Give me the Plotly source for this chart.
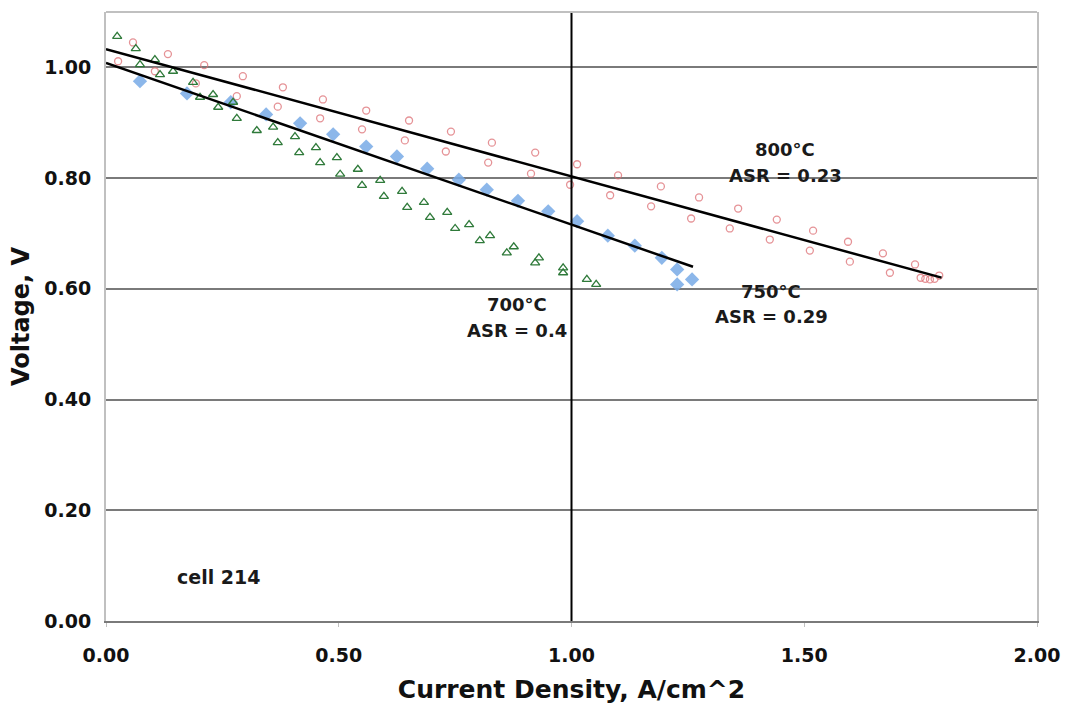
import plotly.graph_objects as go
import numpy as np

# ---- data ----
red_800_x = [0.026, 0.058, 0.105, 0.133, 0.193, 0.211, 0.281, 0.294, 0.369, 0.380, 0.460, 0.466,
             0.550, 0.559, 0.642, 0.651, 0.730, 0.741, 0.821, 0.829, 0.913, 0.922, 0.997, 1.012,
             1.083, 1.100, 1.171, 1.192, 1.257, 1.274, 1.340, 1.358, 1.426, 1.441, 1.512, 1.519,
             1.598, 1.594, 1.684, 1.669, 1.738, 1.750, 1.760, 1.770, 1.780, 1.790]
red_800_y = [1.011, 1.045, 0.993, 1.024, 0.971, 1.004, 0.948, 0.984, 0.929, 0.964, 0.908, 0.942,
             0.888, 0.922, 0.868, 0.904, 0.848, 0.884, 0.828, 0.864, 0.808, 0.846, 0.788, 0.825,
             0.769, 0.805, 0.749, 0.785, 0.727, 0.765, 0.709, 0.745, 0.689, 0.725, 0.669, 0.705,
             0.649, 0.685, 0.629, 0.664, 0.644, 0.620, 0.618, 0.617, 0.618, 0.624]

blue_750_x = [0.073, 0.174, 0.268, 0.344, 0.417, 0.488, 0.559, 0.625, 0.690, 0.758, 0.818, 0.885,
              0.950, 1.012, 1.078, 1.136, 1.194, 1.227, 1.227, 1.259]
blue_750_y = [0.975, 0.953, 0.937, 0.915, 0.899, 0.879, 0.857, 0.839, 0.817, 0.797, 0.779, 0.759,
              0.740, 0.722, 0.696, 0.678, 0.656, 0.635, 0.608, 0.617]

green_700_x = [0.024, 0.064, 0.073, 0.105, 0.116, 0.144, 0.187, 0.202, 0.230, 0.241, 0.273, 0.281,
               0.324, 0.359, 0.369, 0.406, 0.415, 0.451, 0.460, 0.496, 0.503, 0.541, 0.550, 0.589,
               0.597, 0.636, 0.647, 0.683, 0.696, 0.733, 0.750, 0.780, 0.803, 0.825, 0.861, 0.876,
               0.922, 0.930, 0.982, 0.982, 1.033, 1.053]
green_700_y = [1.056, 1.034, 1.005, 1.014, 0.987, 0.993, 0.973, 0.946, 0.951, 0.928, 0.937, 0.908,
               0.886, 0.892, 0.864, 0.875, 0.846, 0.855, 0.828, 0.837, 0.807, 0.816, 0.787, 0.796,
               0.767, 0.776, 0.747, 0.756, 0.729, 0.738, 0.709, 0.716, 0.687, 0.696, 0.665, 0.676,
               0.647, 0.656, 0.629, 0.638, 0.617, 0.608]

# linear fits (intercept, slope = -ASR) and their current ranges
fit_names = ["800°C fit", "750°C fit"]
fit_intercepts = [1.033, 1.008]
fit_slopes = [-0.230, -0.292]
fit_x_end = [1.795, 1.261]

x_ticks = [0.0, 0.5, 1.0, 1.5, 2.0]
y_ticks = [0.0, 0.2, 0.4, 0.6, 0.8, 1.0]
ref_current = 1.0

FONT = "DejaVu Sans"

fig = go.Figure()

fig.add_trace(go.Scatter(x=red_800_x, y=red_800_y, mode="markers", name="800°C",
                         marker=dict(symbol="circle-open", size=7, color="rgba(220,110,115,0.75)",
                                     line=dict(width=1.3))))
fig.add_trace(go.Scatter(x=blue_750_x, y=blue_750_y, mode="markers", name="750°C",
                         marker=dict(symbol="diamond", size=11, color="rgba(120,170,230,0.85)",
                                     line=dict(width=0))))
fig.add_trace(go.Scatter(x=green_700_x, y=green_700_y, mode="markers", name="700°C",
                         marker=dict(symbol="triangle-up-open", size=8, color="#2f7a3a",
                                     line=dict(width=1.3))))

for name, b, m, xe in zip(fit_names, fit_intercepts, fit_slopes, fit_x_end):
    xs = np.array([0.0, xe])
    fig.add_trace(go.Scatter(x=xs, y=b + m * xs, mode="lines", name=name,
                             line=dict(color="black", width=2.5)))

# reference vertical line at 1 A/cm^2
fig.add_shape(type="line", xref="x", yref="paper", x0=ref_current, x1=ref_current, y0=0, y1=1,
              line=dict(color="black", width=2))
# light top border of the plot area
fig.add_shape(type="line", xref="paper", yref="paper", x0=0, x1=1, y0=1, y1=1,
              line=dict(color="#c0c0c0", width=2))

ann_font = dict(family=FONT, size=18, color="#1a1a1a", weight="bold")
annotations = [
    ("800°C", 1.459, 0.852), ("ASR = 0.23", 1.459, 0.805),
    ("750°C", 1.429, 0.595), ("ASR = 0.29", 1.429, 0.550),
    ("700°C", 0.883, 0.571), ("ASR = 0.4", 0.883, 0.524),
]
for t, x, y in annotations:
    fig.add_annotation(x=x, y=y, text=t, showarrow=False, font=ann_font)
fig.add_annotation(x=0.241, y=0.080, text="cell 214", showarrow=False,
                   font=dict(family=FONT, size=19, color="#1a1a1a", weight="bold"))

fig.update_layout(
    width=1070, height=704,
    margin=dict(l=106, r=33, t=12, b=83),
    paper_bgcolor="white", plot_bgcolor="white",
    showlegend=False,
    font=dict(family=FONT, color="black"),
)
fig.update_xaxes(
    range=[0, 2.0], tickvals=x_ticks, tickformat=".2f", automargin=False,
    showgrid=False, zeroline=False,
    showline=True, linecolor="#7a7a7a", linewidth=2, mirror=False,
    ticks="outside", ticklen=4, tickcolor="#c0c0c0",
    tickfont=dict(family=FONT, size=19, color="#111111", weight="bold"),
    ticklabelstandoff=12,
    title=dict(text="Current Density, A/cm^2", standoff=16,
               font=dict(family=FONT, size=25, color="#111111", weight="bold")),
)
fig.update_yaxes(
    range=[0, 1.10], tickvals=y_ticks, tickformat=".2f", automargin=False,
    showgrid=True, gridcolor="#7a7a7a", gridwidth=2, zeroline=False,
    showline=True, linecolor="#c0c0c0", linewidth=2, mirror=True,
    ticks="", ticklabelstandoff=9,
    tickfont=dict(family=FONT, size=19, color="#111111", weight="bold"),
    title=dict(text="Voltage, V", standoff=8,
               font=dict(family=FONT, size=24, color="#111111", weight="bold")),
)

fig.write_html("out.html")
